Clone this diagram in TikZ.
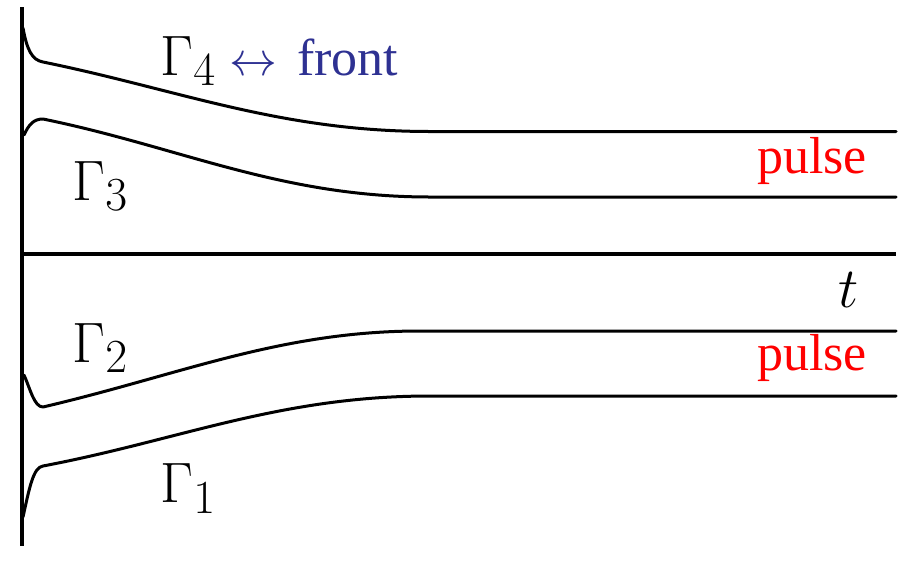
\documentclass[tikz,border=0pt]{standalone}
\usepackage[no-math]{fontspec}
\setmainfont{Liberation Serif}
\newfontfamily\timesfam{Liberation Serif}[Ligatures=TeX]
\definecolor{frontblue}{RGB}{46,49,146}
\begin{document}
\begin{tikzpicture}[x=1pt,y=-1pt,
  curve/.style={line width=3pt,line join=round,line cap=round},
  axisline/.style={line width=4pt},
  mathlbl/.style={inner sep=0pt,anchor=base west,font=\fontsize{24.88}{30}\selectfont,scale=2.29,transform shape},
  redlbl/.style={inner sep=0pt,anchor=base west,text=red},
  bluelbl/.style={inner sep=0pt,anchor=base west,text=frontblue}]
\useasboundingbox (0,0) rectangle (899,560);
% axes
\coordinate (vtop) at (22,7);
\coordinate (vbot) at (22,546);
\coordinate (hl) at (22,254);
\coordinate (hr) at (896,254);
\draw[axisline] (vtop) -- (vbot);
\draw[line width=3.5pt] (hl) -- (hr);
% Gamma 4
\draw[curve] (23,28) .. controls (27,50) and (32,60) .. (43,62)
  .. controls (180,90) and (280,131.5) .. (430,131.5) -- (896,131.5);
% Gamma 3
\draw[curve] (24,135) .. controls (29,124) and (34,119) .. (43,119)
  .. controls (180,147) and (280,197) .. (430,197) -- (896,197);
% Gamma 2
\draw[curve] (24,375) .. controls (30,388) and (34,407) .. (43,407)
  .. controls (180,375) and (280,331) .. (420,331) -- (896,331);
% Gamma 1
\draw[curve] (23,517) .. controls (29,490) and (33,467) .. (43,466)
  .. controls (180,440) and (280,396) .. (430,396) -- (896,396);
% labels
\node[mathlbl] (g4) at (160,75) {$\Gamma_4$};
\node[mathlbl,text=frontblue,scale=0.84] (arr) at (229,75) {$\leftrightarrow$};
\node[bluelbl] (front) at (297,75) {\timesfam\fontsize{52}{60}\selectfont front};
\node[mathlbl] (g3) at (72,200) {$\Gamma_3$};
\node[mathlbl] (g2) at (72,362) {$\Gamma_2$};
\node[mathlbl] (g1) at (160,502) {$\Gamma_1$};
\node[mathlbl] (t) at (838,307) {$t$};
\node[redlbl] (p1) at (757,173) {\timesfam\fontsize{52}{60}\selectfont pulse};
\node[redlbl] (p2) at (757,370) {\timesfam\fontsize{52}{60}\selectfont pulse};
\end{tikzpicture}
\end{document}
